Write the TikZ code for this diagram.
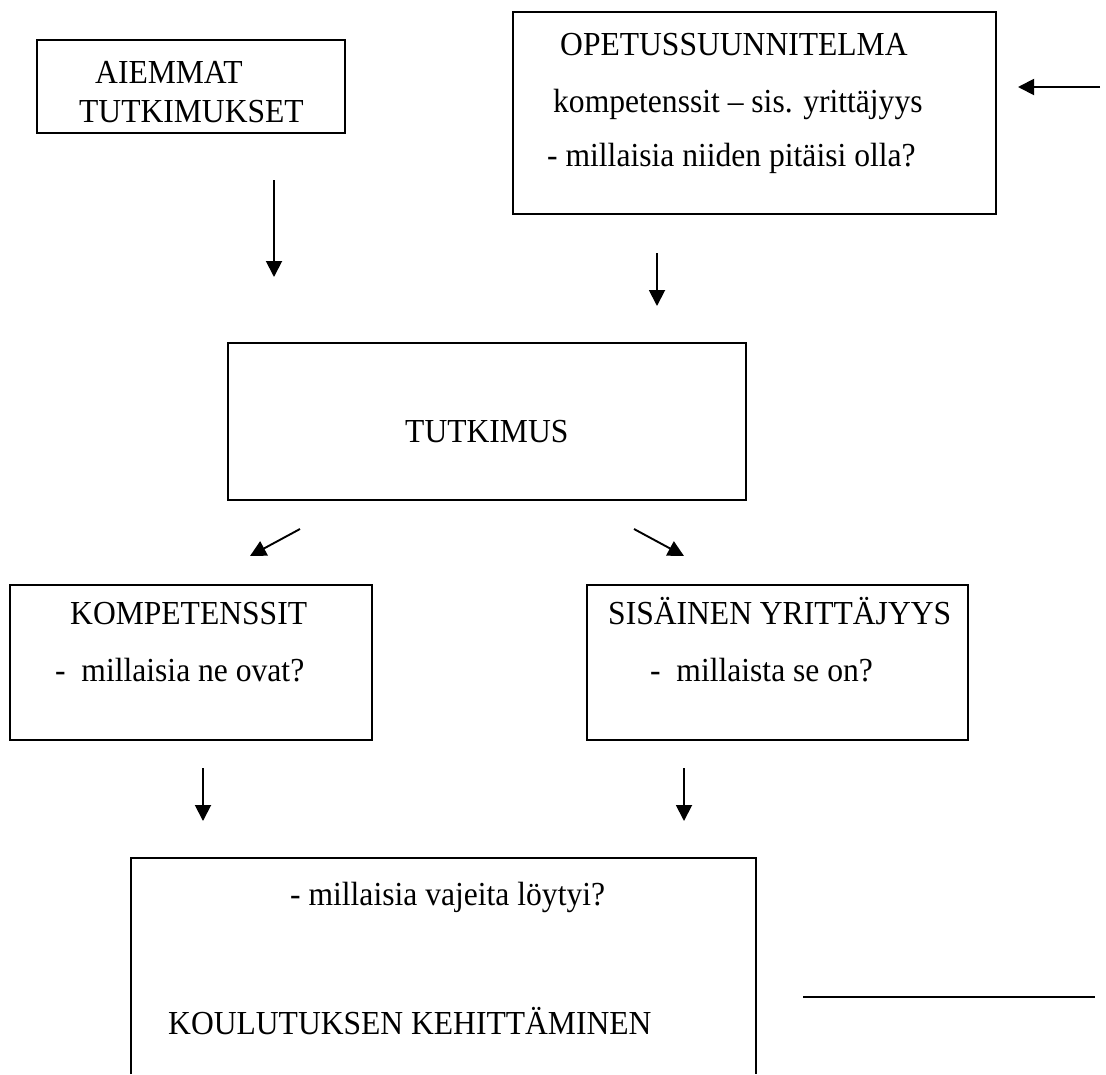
\documentclass[tikz,border=0pt]{standalone}
\usepackage{fontspec}
\setmainfont{Liberation Serif}[FakeStretch=0.94]
\usetikzlibrary{arrows.meta}
\begin{document}
\begin{tikzpicture}[x=1pt,y=-1pt,
  frame/.style={draw,line width=1.9pt,inner sep=0pt},
  lbl/.style={font=\fontsize{33.6}{38}\selectfont,inner sep=0pt,anchor=base west},
  arr/.style={line width=1.9pt,-{Triangle[length=16pt,width=16pt]}}]
\useasboundingbox[fill=white] (0,0) rectangle (1106,1074);

% boxes
\node[frame,minimum width=308pt,minimum height=93pt] (aiem) at (191,86.5) {};
\node[frame,minimum width=483pt,minimum height=202pt] (ops) at (754.5,113) {};
\node[frame,minimum width=518pt,minimum height=157pt] (tutk) at (487,421.5) {};
\node[frame,minimum width=362pt,minimum height=155pt] (komp) at (191,662.5) {};
\node[frame,minimum width=381pt,minimum height=155pt] (sis) at (777.5,662.5) {};
\draw[line width=1.9pt] (131,1074) -- (131,858) -- (756,858) -- (756,1074);

% texts
\node[lbl] (t1) at (95,83) {AIEMMAT};
\node[lbl] (t2) at (79,122) {TUTKIMUKSET};
\node[lbl] (t3) at (560,55) {OPETUSSUUNNITELMA};
\node[lbl] (t4) at (553,112) {kompetenssit – sis. yrittäjyys};
\node[lbl] (t5) at (547,166) {- millaisia niiden pitäisi olla?};
\node[lbl] (t6) at (405,442) {TUTKIMUS};
\node[lbl] (t7) at (70,624) {KOMPETENSSIT};
\node[lbl] (t8) at (55,681) {-\ \ millaisia ne ovat?};
\node[lbl] (t9) at (608,624) {SISÄINEN YRITTÄJYYS};
\node[lbl] (t10) at (650,681) {-\ \ millaista se on?};
\node[lbl] (t11) at (290,905) {- millaisia vajeita löytyi?};
\node[lbl] (t12) at (168,1034) {KOULUTUKSEN KEHITTÄMINEN};

% connector end points
\coordinate (a1s) at (274,180); \coordinate (a1e) at (274,277);
\coordinate (a2s) at (657,253); \coordinate (a2e) at (657,306);
\coordinate (a3s) at (1100,87); \coordinate (a3e) at (1018,87);
\coordinate (a4s) at (300,529); \coordinate (a4e) at (250,556);
\coordinate (a5s) at (634,529); \coordinate (a5e) at (684,556);
\coordinate (a6s) at (203,768); \coordinate (a6e) at (203,821);
\coordinate (a7s) at (684,768); \coordinate (a7e) at (684,821);
\coordinate (l1s) at (803,997); \coordinate (l1e) at (1095,997);

\draw[arr] (a1s) -- (a1e);
\draw[arr] (a2s) -- (a2e);
\draw[arr] (a3s) -- (a3e);
\draw[arr] (a4s) -- (a4e);
\draw[arr] (a5s) -- (a5e);
\draw[arr] (a6s) -- (a6e);
\draw[arr] (a7s) -- (a7e);
\draw[line width=1.9pt] (l1s) -- (l1e);
\end{tikzpicture}
\end{document}
